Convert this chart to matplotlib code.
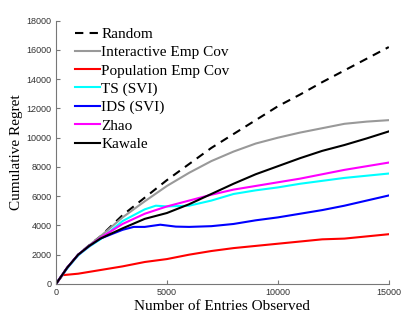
import matplotlib
matplotlib.use('Agg')
import matplotlib.pyplot as plt

# cumulative regret
x_random = [0, 500, 1000, 1500, 2000, 3000, 4000, 5000, 6000, 7000, 8000, 9000, 10000, 11000, 12000, 13000, 14000, 15000]
random_vals = [0, 1100, 2000, 2650, 3250, 4700, 5900, 7100, 8200, 9300, 10250, 11200, 12150, 12950, 13800, 14600, 15400, 16200]

x_interactive = [0, 500, 1000, 1500, 2000, 3000, 4000, 5000, 6000, 7000, 8000, 9000, 10000, 11000, 12000, 13000, 14000, 15000]
interactive_vals = [0, 1100, 2000, 2650, 3250, 4550, 5650, 6700, 7600, 8400, 9050, 9600, 10000, 10350, 10650, 10950, 11100, 11200]

x_population = [0, 300, 1000, 2000, 3000, 4000, 5000, 6000, 7000, 8000, 9000, 10000, 11000, 12000, 13000, 14000, 15000]
population_vals = [0, 600, 700, 950, 1200, 1500, 1700, 2000, 2250, 2450, 2600, 2750, 2900, 3050, 3100, 3250, 3400]

x_ts = [0, 500, 1000, 1500, 2000, 3000, 4000, 4500, 5000, 6000, 7000, 8000, 9000, 10000, 11000, 12000, 13000, 14000, 15000]
ts_vals = [0, 1050, 1950, 2550, 3050, 4300, 5100, 5350, 5300, 5350, 5700, 6150, 6400, 6600, 6850, 7050, 7250, 7400, 7550]

x_ids = [0, 500, 1000, 1500, 2000, 3000, 3500, 4000, 4700, 5400, 6000, 7000, 8000, 9000, 10000, 11000, 12000, 13000, 14000, 15000]
ids_vals = [0, 1100, 2000, 2600, 3100, 3700, 3900, 3900, 4050, 3920, 3900, 3950, 4100, 4350, 4550, 4800, 5050, 5350, 5700, 6050]

x_zhao = [0, 500, 1000, 1500, 2000, 3000, 4000, 5000, 6000, 7000, 8000, 9000, 10000, 11000, 12000, 13000, 14000, 15000]
zhao_vals = [0, 1100, 2000, 2600, 3150, 4100, 4800, 5300, 5700, 6100, 6450, 6700, 6950, 7200, 7500, 7800, 8050, 8300]

x_kawale = [0, 500, 1000, 1500, 2000, 3000, 4000, 5000, 6000, 7000, 8000, 9000, 10000, 11000, 12000, 13000, 14000, 15000]
kawale_vals = [0, 1100, 2000, 2600, 3100, 3800, 4450, 4850, 5450, 6150, 6850, 7500, 8050, 8600, 9100, 9500, 9950, 10430]

serif = ['Liberation Serif', 'DejaVu Serif']
sans = ['Liberation Sans', 'DejaVu Sans']

fig = plt.figure(figsize=(4.16, 3.29), dpi=100)
ax = fig.add_axes([0.1346, 0.137, 0.8, 0.8])

lw = 1.5
ax.plot(x_random, random_vals, color='black', ls=(0, (4, 3)), lw=lw, label='Random')
ax.plot(x_interactive, interactive_vals, color='#999999', lw=lw, label='Interactive Emp Cov')
ax.plot(x_population, population_vals, color='red', lw=lw, label='Population Emp Cov')
ax.plot(x_ts, ts_vals, color='cyan', lw=lw, label='TS (SVI)')
ax.plot(x_ids, ids_vals, color='blue', lw=lw, label='IDS (SVI)')
ax.plot(x_zhao, zhao_vals, color='magenta', lw=lw, label='Zhao')
ax.plot(x_kawale, kawale_vals, color='black', lw=lw, label='Kawale')

ax.set_xlim(0, 15000)
ax.set_ylim(0, 18000)
ax.set_xticks([0, 5000, 10000, 15000])
ax.set_yticks(range(0, 18001, 2000))

for side in ['top', 'right']:
    ax.spines[side].set_visible(False)
for side in ['left', 'bottom']:
    ax.spines[side].set_color('#777777')
    ax.spines[side].set_linewidth(0.8)
ax.tick_params(direction='in', length=3, width=0.8, color='#777777',
               labelsize=6.5, labelcolor='#333333', pad=3)
for lab in ax.get_xticklabels() + ax.get_yticklabels():
    lab.set_family(sans)

ax.set_xlabel('Number of Entries Observed', family=serif, fontsize=11, labelpad=2)
ax.set_ylabel('Cumulative Regret', family=serif, fontsize=11, labelpad=3)

ax.legend(loc='upper left', frameon=False, prop={'family': serif, 'size': 11},
          handlelength=1.6, handletextpad=0.1, labelspacing=0.3,
          borderaxespad=0.2, bbox_to_anchor=(0.03, 1.01))

plt.savefig('out.png', dpi=100)
